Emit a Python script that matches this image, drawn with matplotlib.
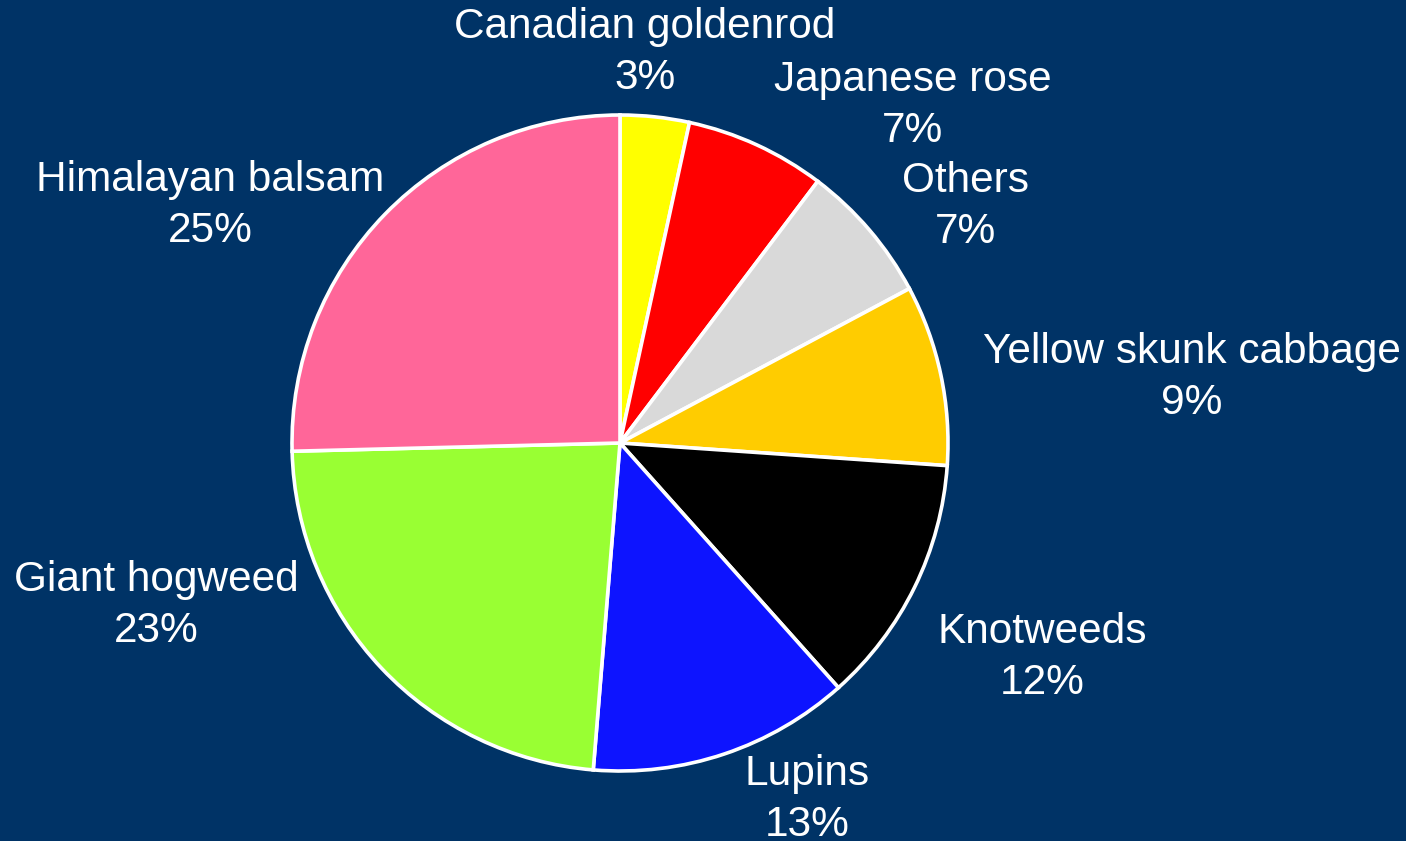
import numpy as np
import matplotlib.pyplot as plt

plt.rcParams['font.family'] = ['Liberation Sans', 'DejaVu Sans']

species = ["Canadian goldenrod", "Japanese rose", "Others", "Yellow skunk cabbage",
           "Knotweeds", "Lupins", "Giant hogweed", "Himalayan balsam"]
share = [3.4, 6.9, 6.9, 8.9, 12.3, 12.9, 23.3, 25.4]
colors = ["#FFFF00", "#FF0000", "#D9D9D9", "#FFCC00",
          "#000000", "#0D14FF", "#99FF33", "#FF6699"]

# label centres in pie units (radius = 1)
label_xy = [(0.076, 1.190), (0.893, 1.029), (1.052, 0.721), (1.744, 0.199),
            (1.287, -0.654), (0.570, -1.087), (-1.415, -0.496), (-1.250, 0.724)]

bg = "#003366"
W, H = 1406, 841
cx, cy, R = 620, 443, 328

fig = plt.figure(figsize=(W / 100, H / 100), dpi=100)
fig.patch.set_facecolor(bg)
ax = fig.add_axes([0, 0, 1, 1])
ax.set_facecolor(bg)

ax.pie(share, colors=colors, startangle=90, counterclock=False, radius=1,
       wedgeprops=dict(edgecolor="white", linewidth=2.6))

total = sum(share)
for name, v, (x, y) in zip(species, share, label_xy):
    ax.text(x, y, f"{name}\n{round(v / total * 100):.0f}%", ha="center", va="center",
            color="white", fontsize=30.5, linespacing=1.36, multialignment="center")

ax.set_xlim(-cx / R, (W - cx) / R)
ax.set_ylim(-(H - cy) / R, cy / R)
ax.set_aspect("equal")
ax.axis("off")

fig.savefig("out.png", dpi=100, facecolor=bg)
